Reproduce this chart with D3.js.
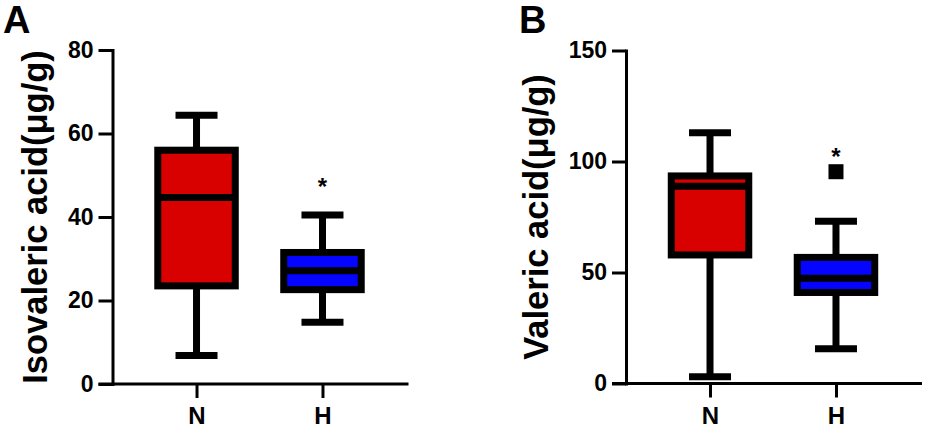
<!DOCTYPE html>
<html>
<head>
<meta charset="utf-8">
<script src="https://cdn.jsdelivr.net/npm/d3@7"></script>
<style>
  html, body { margin: 0; padding: 0; background: #fff; }
  svg { display: block; font-family: "Liberation Sans", Arial, sans-serif; }
</style>
</head>
<body>
<svg id="chart" width="930" height="429"></svg>
<script>
"use strict";

// groups and box colours
const groups = ["N", "H"];
const boxColors = ["#d90000", "#0505ff"];

// panel A: isovaleric acid (ug/g)
const isoMin = [6.8, 14.8];
const isoQ1 = [23.5, 22.6];
const isoMed = [44.7, 27.1];
const isoQ3 = [56.0, 31.5];
const isoMax = [64.4, 40.5];
const isoTicks = [0, 20, 40, 60, 80];
const isoStarGroup = ["H"];
const isoStarValue = [48.5];

// panel B: valeric acid (ug/g)
const valMin = [3.0, 15.6];
const valQ1 = [57.9, 41.0];
const valMed = [88.9, 47.4];
const valQ3 = [93.5, 56.8];
const valMax = [112.9, 73.1];
const valTicks = [0, 50, 100, 150];
const valOutlierGroup = ["H"];
const valOutlierValue = [95.4];
const valStarGroup = ["H"];
const valStarValue = [104.3];

const svg = d3.select("#chart");

const boxW = 77.5;
const capW = 42;
const lw = 7;

function panel(o) {
  const g = svg.append("g");

  const y = d3.scaleLinear().domain([0, o.yMax]).range([o.y0, o.y1]);
  const x = d3.scalePoint().domain(groups).range([o.x0, o.x0 + 294]).padding(0.667);

  const data = groups.map((k, i) => ({
    key: k, color: boxColors[i],
    min: o.min[i], q1: o.q1[i], med: o.med[i], q3: o.q3[i], max: o.max[i]
  }));

  // y axis
  const ya = g.append("g")
    .attr("transform", `translate(${o.x0},0)`)
    .call(d3.axisLeft(y).tickValues(o.ticks).tickSize(14).tickSizeOuter(0).tickPadding(5));
  ya.select(".domain").attr("stroke-width", 3).attr("stroke-linecap", "square");
  ya.selectAll(".tick line").attr("stroke-width", 3);
  ya.selectAll(".tick text")
    .attr("font-family", "Liberation Sans, Arial, sans-serif")
    .attr("font-size", 23).attr("font-weight", "bold").attr("fill", "#000");

  // x axis
  const xa = g.append("g")
    .attr("transform", `translate(0,${o.y0})`)
    .call(d3.axisBottom(x).tickSize(14).tickSizeOuter(0).tickPadding(9));
  xa.select(".domain").remove();
  xa.selectAll(".tick line").attr("stroke-width", 3);
  xa.selectAll(".tick text")
    .attr("font-family", "Liberation Sans, Arial, sans-serif")
    .attr("font-size", 24).attr("font-weight", "bold").attr("fill", "#000");
  g.append("line")
    .attr("x1", o.x0 - 14).attr("x2", o.x0 + 296)
    .attr("y1", o.y0).attr("y2", o.y0)
    .attr("stroke", "#000").attr("stroke-width", 3);

  const b = g.append("g").selectAll("g").data(data).join("g");

  // whiskers, box, median, caps
  b.append("line")
    .attr("x1", d => x(d.key)).attr("x2", d => x(d.key))
    .attr("y1", d => y(d.max)).attr("y2", d => y(d.min))
    .attr("stroke", "#000").attr("stroke-width", lw);
  b.append("rect")
    .attr("x", d => x(d.key) - boxW / 2)
    .attr("width", boxW)
    .attr("y", d => y(d.q3))
    .attr("height", d => y(d.q1) - y(d.q3))
    .attr("fill", d => d.color)
    .attr("stroke", "#000").attr("stroke-width", lw);
  b.append("line")
    .attr("x1", d => x(d.key) - boxW / 2).attr("x2", d => x(d.key) + boxW / 2)
    .attr("y1", d => y(d.med)).attr("y2", d => y(d.med))
    .attr("stroke", "#000").attr("stroke-width", lw);
  ["min", "max"].forEach(k => {
    b.append("line")
      .attr("x1", d => x(d.key) - capW / 2).attr("x2", d => x(d.key) + capW / 2)
      .attr("y1", d => y(d[k])).attr("y2", d => y(d[k]))
      .attr("stroke", "#000").attr("stroke-width", lw);
  });

  // outliers
  if (o.outGroup) {
    g.append("g").selectAll("rect")
      .data(o.outGroup.map((k, i) => ({ key: k, v: o.outValue[i] })))
      .join("rect")
      .attr("x", d => x(d.key) - 7.5).attr("y", d => y(d.v) - 7.5)
      .attr("width", 15).attr("height", 15)
      .attr("fill", "#000");
  }

  // significance stars
  g.append("g").selectAll("text")
    .data(o.starGroup.map((k, i) => ({ key: k, v: o.starValue[i] })))
    .join("text")
    .attr("x", d => x(d.key))
    .attr("y", d => y(d.v) + 13)
    .attr("text-anchor", "middle")
    .attr("font-size", 24)
    .attr("font-weight", "bold")
    .text("*");

  // y title
  g.append("text")
    .attr("transform", `translate(${o.titleX},${(o.y0 + o.y1) / 2}) rotate(-90)`)
    .attr("text-anchor", "middle")
    .attr("font-size", 34.5)
    .attr("font-weight", "bold")
    .text(o.title);

  // panel letter
  g.append("text")
    .attr("x", o.letterX).attr("y", 33)
    .attr("font-size", 38)
    .attr("font-weight", "bold")
    .text(o.letter);
}

panel({
  x0: 112.5, y0: 384, y1: 50, yMax: 80, ticks: isoTicks,
  min: isoMin, q1: isoQ1, med: isoMed, q3: isoQ3, max: isoMax,
  starGroup: isoStarGroup, starValue: isoStarValue,
  title: "Isovaleric acid(μg/g)", titleX: 47, letter: "A", letterX: 3
});

panel({
  x0: 626, y0: 383.5, y1: 50.5, yMax: 150, ticks: valTicks,
  min: valMin, q1: valQ1, med: valMed, q3: valQ3, max: valMax,
  outGroup: valOutlierGroup, outValue: valOutlierValue,
  starGroup: valStarGroup, starValue: valStarValue,
  title: "Valeric acid(μg/g)", titleX: 548, letter: "B", letterX: 519
});
</script>
</body>
</html>
